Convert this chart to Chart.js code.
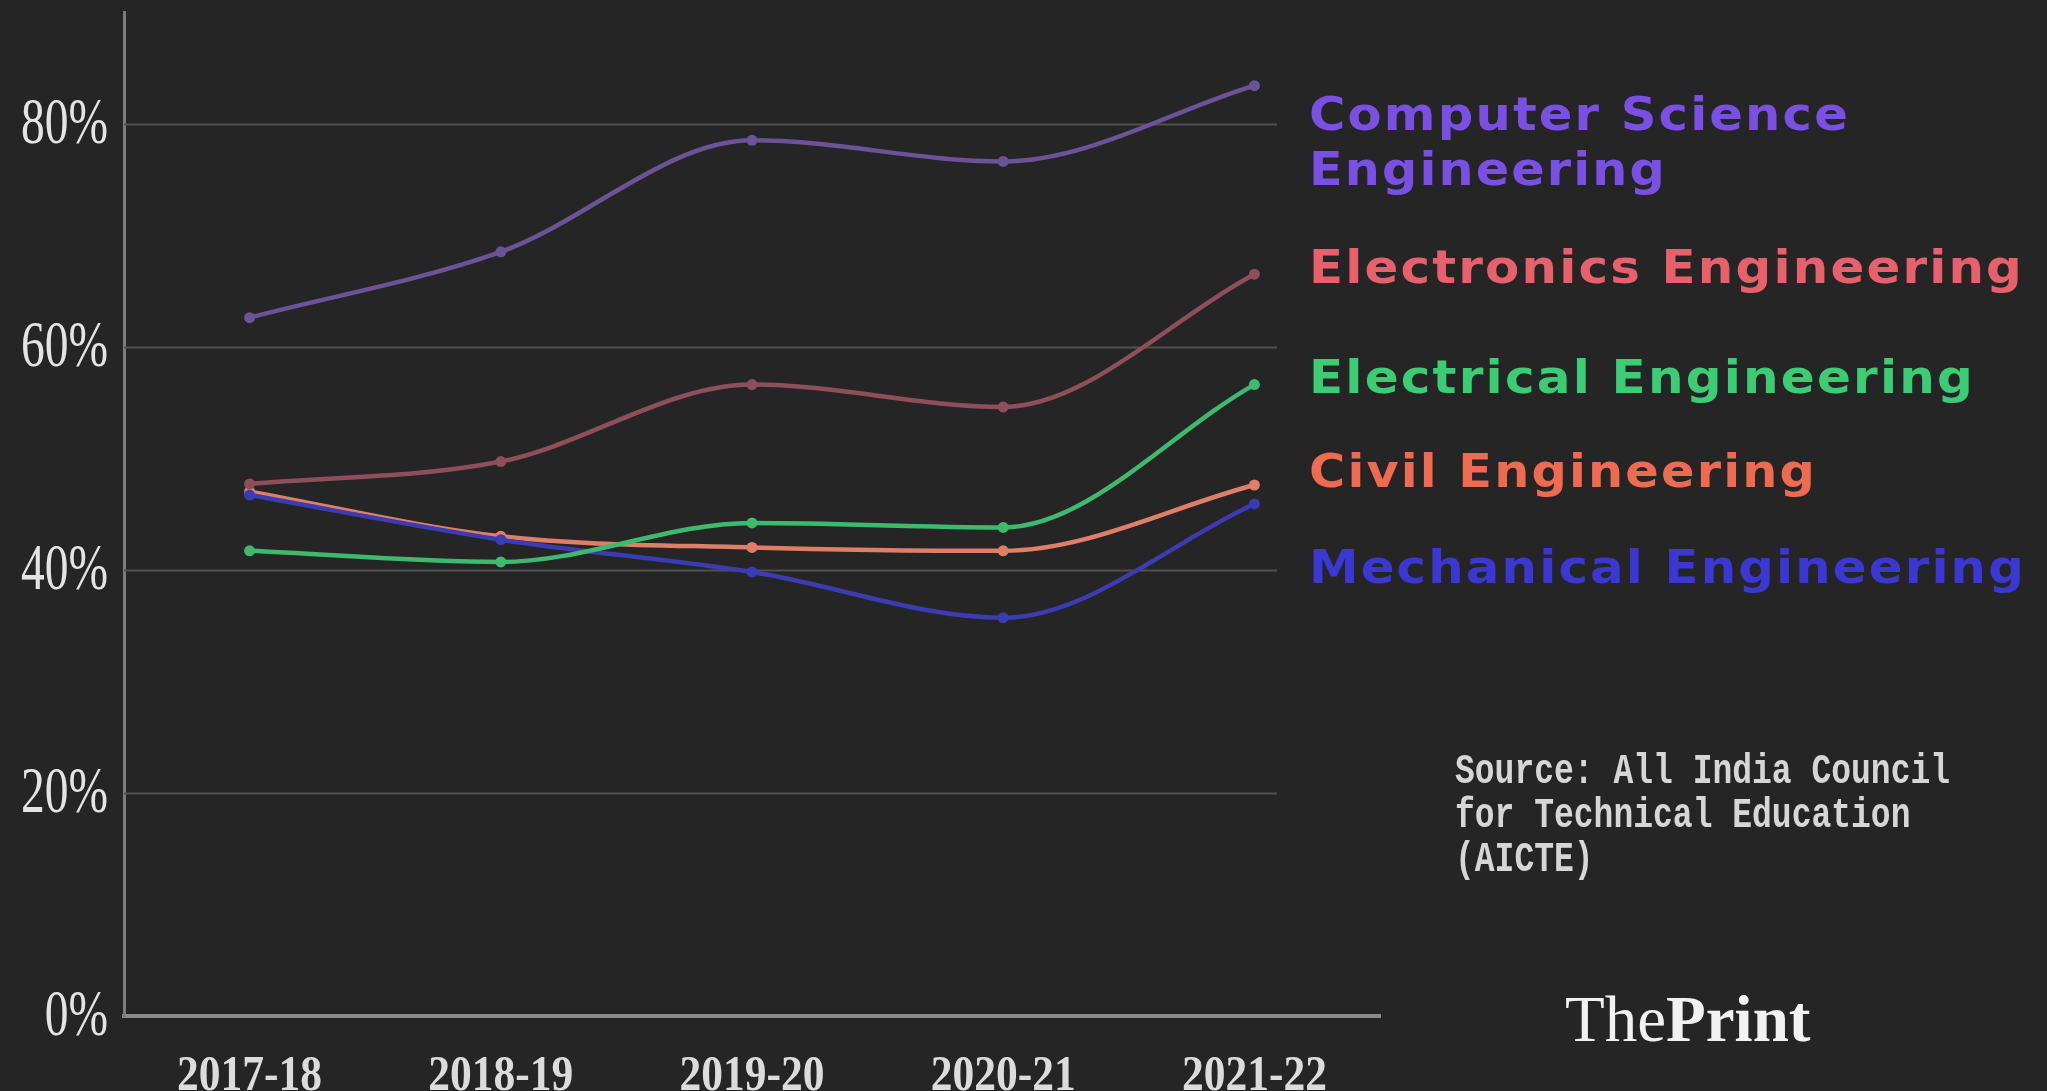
<!DOCTYPE html>
<html>
<head>
<meta charset="utf-8">
<script src="https://cdn.jsdelivr.net/npm/chart.js@4/dist/chart.umd.min.js"></script>
<style>
    html, body { margin: 0; padding: 0; background: #252525; }
    #wrap { width: 2047px; height: 1091px; }
</style>
</head>
<body>
<div id="wrap"><canvas id="branchChart" width="2047" height="1091"></canvas></div>
<script>
// Share of seats filled, by engineering branch
const years = ['2017-18', '2018-19', '2019-20', '2020-21', '2021-22'];
const computerScience = [62.6, 68.5, 78.5, 76.6, 83.4];
const electronics = [47.7, 49.7, 56.6, 54.6, 66.5];
const electrical = [41.7, 40.7, 44.2, 43.8, 56.6];
const civil = [47.0, 43.0, 42.0, 41.7, 47.6];
const mechanical = [46.7, 42.7, 39.8, 35.7, 45.9];
const yTicks = [0, 20, 40, 60, 80];

const branchLabels = [
    { lines: ['Computer Science', 'Engineering'], color: '#7a4fe4', baselines: [130, 185], widths: [541, 358] },
    { lines: ['Electronics Engineering'], color: '#e8606b', baselines: [283], widths: [715] },
    { lines: ['Electrical Engineering'], color: '#3ccc74', baselines: [393], widths: [666] },
    { lines: ['Civil Engineering'], color: '#ee6a50', baselines: [487], widths: [508] },
    { lines: ['Mechanical Engineering'], color: '#3a37d2', baselines: [583], widths: [717] }
];
const sourceLines = ['Source: All India Council', 'for Technical Education', '(AICTE)'];

function series(label, data, color) {
    return {
        label: label,
        data: data,
        borderColor: color,
        backgroundColor: color,
        borderWidth: 4.5,
        pointRadius: 5.5,
        pointBorderWidth: 0,
        cubicInterpolationMode: 'monotone'
    };
}

// Draws gridlines short of the axis end, squeezed serif tick labels and the side texts
const decorations = {
    id: 'decorations',
    beforeDatasetsDraw(chart) {
        const ctx = chart.ctx;
        const y = chart.scales.y;
        ctx.save();
        ctx.strokeStyle = '#505050';
        ctx.lineWidth = 2;
        y.ticks.forEach(t => {
            if (t.value === 0) return;
            const py = Math.round(y.getPixelForValue(t.value)) + 0.5;
            ctx.beginPath();
            ctx.moveTo(chart.chartArea.left, py);
            ctx.lineTo(1277, py);
            ctx.stroke();
        });
        ctx.restore();
    },
    afterDraw(chart) {
        const ctx = chart.ctx;
        const x = chart.scales.x;
        const y = chart.scales.y;

        // y tick labels
        ctx.save();
        ctx.fillStyle = '#e4e4e4';
        ctx.font = '66px "Liberation Serif"';
        ctx.textAlign = 'right';
        ctx.textBaseline = 'middle';
        y.ticks.forEach(t => {
            const py = y.getPixelForValue(t.value);
            ctx.save();
            ctx.translate(108, py + 2);
            ctx.scale(0.72, 1);
            ctx.fillText(t.value + '%', 0, 0);
            ctx.restore();
        });

        // x tick labels
        ctx.fillStyle = '#dcdcdc';
        ctx.font = 'bold 50px "Liberation Serif"';
        ctx.textAlign = 'center';
        ctx.textBaseline = 'alphabetic';
        years.forEach((yr, i) => {
            ctx.save();
            ctx.translate(x.getPixelForValue(i), 1090);
            ctx.scale(0.87, 1);
            ctx.fillText(yr, 0, 0);
            ctx.restore();
        });
        ctx.restore();

        // branch names on the right, stretched to their set widths
        ctx.save();
        ctx.font = 'bold 46px "DejaVu Sans"';
        ctx.textAlign = 'left';
        ctx.textBaseline = 'alphabetic';
        ctx.letterSpacing = '2px';
        branchLabels.forEach(b => {
            ctx.fillStyle = b.color;
            b.lines.forEach((line, i) => {
                const w = ctx.measureText(line).width;
                ctx.save();
                ctx.translate(1309, b.baselines[i]);
                ctx.scale(b.widths[i] / w, 1);
                ctx.fillText(line, 0, 0);
                ctx.restore();
            });
        });
        ctx.letterSpacing = '0px';
        ctx.restore();

        // source note
        ctx.save();
        ctx.fillStyle = '#d6d6d6';
        ctx.font = 'bold 33px "Liberation Mono"';
        ctx.textAlign = 'left';
        sourceLines.forEach((line, i) => {
            ctx.save();
            ctx.translate(1455, 783 + i * 44);
            ctx.scale(1, 1.3);
            ctx.fillText(line, 0, 0);
            ctx.restore();
        });
        ctx.restore();

        // logo
        ctx.save();
        ctx.fillStyle = '#f2f2f2';
        ctx.textAlign = 'left';
        ctx.font = '65px "Liberation Serif"';
        ctx.fillText('The', 1565, 1041);
        const tw = ctx.measureText('The').width;
        ctx.font = 'bold 65px "Liberation Serif"';
        ctx.fillText('Print', 1565 + tw, 1041);
        ctx.restore();
    }
};

new Chart(document.getElementById('branchChart'), {
    type: 'line',
    data: {
        labels: years,
        datasets: [
            series('Computer Science Engineering', computerScience, '#6a5397'),
            series('Electronics Engineering', electronics, '#8e4e5c'),
            series('Electrical Engineering', electrical, '#3dba6d'),
            series('Mechanical Engineering', mechanical, '#3b3bb2'),
            series('Civil Engineering', civil, '#de7f68')
        ]
    },
    options: {
        responsive: false,
        animation: false,
        layout: {
            padding: { left: 124, top: 12, right: 667, bottom: 75 }
        },
        plugins: {
            legend: { display: false },
            tooltip: { enabled: false }
        },
        scales: {
            x: {
                offset: true,
                grid: { display: false, drawTicks: false },
                border: { display: true, color: '#8a8a8a', width: 4 },
                ticks: { display: false }
            },
            y: {
                min: 0,
                max: 90,
                afterBuildTicks: scale => {
                    scale.ticks = yTicks.map(v => ({ value: v }));
                },
                grid: { display: false, drawTicks: false },
                border: { display: true, color: '#7c7c7c', width: 3 },
                ticks: { display: false }
            }
        }
    },
    plugins: [decorations]
});
</script>
</body>
</html>
